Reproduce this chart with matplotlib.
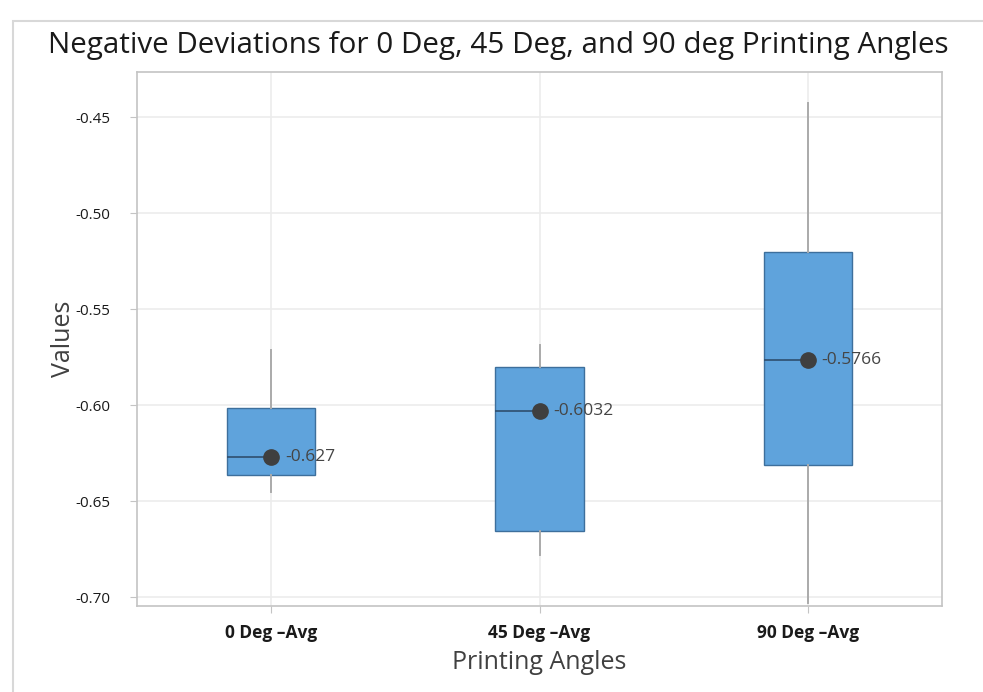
import matplotlib
matplotlib.use("Agg")
import matplotlib.pyplot as plt
from matplotlib.patches import Rectangle

categories = ["0 Deg \u2013Avg", "45 Deg \u2013Avg", "90 Deg \u2013Avg"]
q1 = [-0.6362, -0.6655, -0.6312]
q3 = [-0.6016, -0.5803, -0.5200]
whislo = [-0.6452, -0.6780, -0.7030]
whishi = [-0.5710, -0.5684, -0.4427]
med = [-0.6270, -0.6032, -0.5766]
med_labels = ["-0.627", "-0.6032", "-0.5766"]
yticks = [-0.45, -0.50, -0.55, -0.60, -0.65, -0.70]

plt.rcParams['font.family'] = ['Open Sans', 'DejaVu Sans']

fig = plt.figure(figsize=(9.83, 6.92), dpi=100)
fig.patches.append(Rectangle((13/983, -0.1), 1.2, (692-21)/692 + 0.1, transform=fig.transFigure,
                             fill=False, edgecolor='#d8d8d8', linewidth=1.5))
ax = fig.add_axes([137/983, 1-606/692, (942-137)/983, (606-72)/692])

positions = list(range(len(categories)))
stats = []
for i in positions:
    stats.append(dict(med=med[i], q1=q1[i], q3=q3[i], whislo=whislo[i], whishi=whishi[i],
                      fliers=[], label=categories[i]))
width = 0.33
bp = ax.bxp(stats, positions=positions, widths=width, patch_artist=True, showcaps=False,
            boxprops=dict(facecolor='#5fa3dc', edgecolor='#3d6f9c', linewidth=1.0),
            whiskerprops=dict(color='#ababab', linewidth=1.4),
            medianprops=dict(visible=False), zorder=3)
for i in positions:
    ax.hlines(med[i], i - width/2, i, color='#2e4e6e', linewidth=1.2, zorder=4)
    ax.plot(i, med[i], 'o', color='#3f3f3f', markersize=11, zorder=5)
    ax.annotate(med_labels[i], (i, med[i]), xytext=(10, 0), textcoords='offset points',
                va='center', ha='left', fontsize=12.5, color='#454545', zorder=6)

ax.set_xlim(-0.5, 2.5)
ax.set_ylim(-0.7045, -0.4265)
ax.set_yticks(yticks)
ax.set_yticklabels([f"{v:.2f}" for v in yticks])
ax.set_xticks(positions)
ax.set_xticklabels(categories, fontweight='bold', fontsize=12.5)
ax.grid(True, color='#ececec', linewidth=1.2, zorder=0)
ax.set_axisbelow(True)
for s in ax.spines.values():
    s.set_color('#c4c4c4')
    s.set_linewidth(1.2)
ax.tick_params(axis='both', colors='#c4c4c4', labelcolor='#1a1a1a', length=5)
ax.tick_params(axis='y', labelsize=11, pad=14)
ax.tick_params(axis='x', pad=8)

ax.set_ylabel("Values", fontsize=18, color='#404040', labelpad=0)
ax.set_xlabel("Printing Angles", fontsize=18, color='#404040', labelpad=6)
fig.text(498/983, 1-46/692, "Negative Deviations for 0 Deg, 45 Deg, and 90 deg Printing Angles",
         ha='center', va='center', fontsize=21.3, color='#1a1a1a')

fig.savefig("out.png", dpi=100)
